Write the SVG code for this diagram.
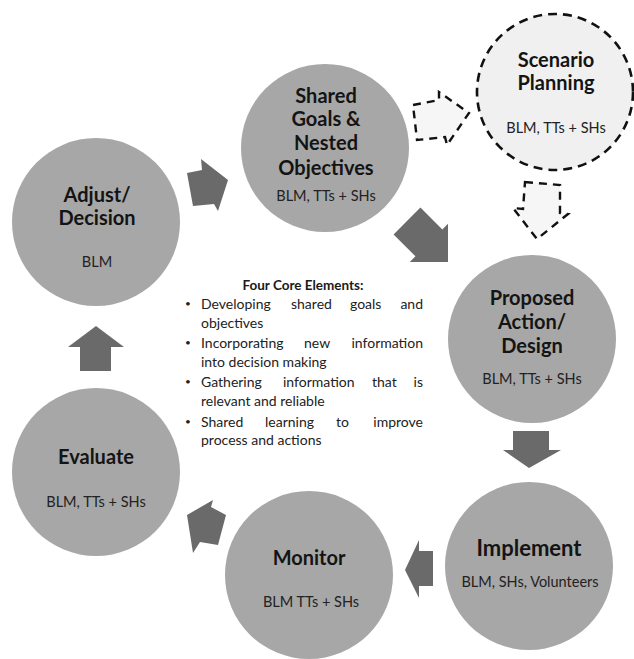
<svg xmlns="http://www.w3.org/2000/svg" width="634" height="659" viewBox="0 0 634 659">
<defs>
<style>
.node{fill:#a7a7a7;}
.dash{fill:#f0f0f0;stroke:#111;stroke-width:2.6;stroke-dasharray:9 6;}
.arrow{fill:#6a6a6a;}
.darrow{fill:#f6f6f6;stroke:#111;stroke-width:2.4;stroke-dasharray:8 6;}
.t{font-family:Lato,"Open Sans","Liberation Sans",sans-serif;font-weight:bold;font-size:20px;fill:#141414;text-anchor:middle;}
.s{font-family:Lato,"Open Sans","Liberation Sans",sans-serif;font-size:14.5px;fill:#222;text-anchor:middle;}
.h{font-family:Lato,"Open Sans","Liberation Sans",sans-serif;font-weight:bold;font-size:13.5px;fill:#1a1a1a;text-anchor:middle;}
.b{font-family:Lato,"Open Sans","Liberation Sans",sans-serif;font-size:14px;fill:#222;}
.dot{font-family:Lato,"Open Sans","Liberation Sans",sans-serif;font-size:10px;fill:#222;}
</style>
</defs>
<rect width="634" height="659" fill="#ffffff"/>
<g id="connectors">
<polygon class="arrow" points="187,173 202,170 201,159 228,180 218,211 214,204 193,206"/>
<polygon class="arrow" transform="translate(448,262) rotate(45)" points="0,0 -27,-27 -27,-19 -58,-19 -58,19 -27,19 -27,27"/>
<polygon class="darrow" points="413,105 439,100 439,92 469,113 447,145 445,137 417,140"/>
<polygon class="darrow" points="525,182 560,185 560,213 568,214 537,239 513,208 523,209"/>
<polygon class="arrow" points="513,431 549,431 549,450 561,450 529,468 503,450 513,450"/>
<polygon class="arrow" points="405,570 419,540 419,551 433,551 433,586 419,586 419,598"/>
<polygon class="arrow" points="187,515 213,500 211,507 226,515 218,545 200,542 193,553"/>
<polygon class="arrow" points="96,326 124,347 111,347 111,371 80,371 80,347 68,347"/>
</g>
<g id="adjust">
<circle class="node" cx="96" cy="222" r="84"/>
<text class="t" x="97" y="202">Adjust/</text>
<text class="t" x="97" y="225">Decision</text>
<text class="s" x="97" y="267">BLM</text>
</g>
<g id="shared-goals">
<circle class="node" cx="325" cy="148" r="84"/>
<text class="t" x="326" y="103">Shared</text>
<text class="t" x="326" y="126">Goals &amp;</text>
<text class="t" x="326" y="150">Nested</text>
<text class="t" x="326" y="175">Objectives</text>
<text class="s" x="326" y="201">BLM, TTs + SHs</text>
</g>
<g id="scenario-planning">
<circle class="dash" cx="555" cy="92" r="78"/>
<text class="t" x="556" y="67">Scenario</text>
<text class="t" x="556" y="90">Planning</text>
<text class="s" x="556" y="133">BLM, TTs + SHs</text>
</g>
<g id="proposed">
<circle class="node" cx="532" cy="339" r="84"/>
<text class="t" x="532" y="305">Proposed</text>
<text class="t" x="532" y="329">Action/</text>
<text class="t" x="532" y="353">Design</text>
<text class="s" x="532" y="384">BLM, TTs + SHs</text>
</g>
<g id="implement">
<circle class="node" cx="529" cy="566" r="84"/>
<text class="t" x="529" y="556" style="font-size:22px">Implement</text>
<text class="s" x="530" y="587">BLM, SHs, Volunteers</text>
</g>
<g id="monitor">
<circle class="node" cx="309" cy="575" r="84"/>
<text class="t" x="309" y="565">Monitor</text>
<text class="s" x="311" y="607">BLM TTs + SHs</text>
</g>
<g id="evaluate">
<circle class="node" cx="96" cy="472" r="84"/>
<text class="t" x="96" y="464">Evaluate</text>
<text class="s" x="96" y="507">BLM, TTs + SHs</text>
</g>
<g id="core-elements">
<text class="h" x="303" y="290">Four Core Elements:</text>
<text class="dot" x="185" y="307">•</text>
<text class="b" y="309"><tspan x="201">Developing</tspan><tspan x="291">shared</tspan><tspan x="350">goals</tspan><tspan x="423" text-anchor="end">and</tspan></text>
<text class="b" x="201" y="328">objectives</text>
<text class="dot" x="185" y="346">•</text>
<text class="b" y="348"><tspan x="201">Incorporating</tspan><tspan x="304">new</tspan><tspan x="423" text-anchor="end">information</tspan></text>
<text class="b" x="201" y="367">into decision making</text>
<text class="dot" x="185" y="385">•</text>
<text class="b" y="387"><tspan x="201">Gathering</tspan><tspan x="283">information</tspan><tspan x="372">that</tspan><tspan x="423" text-anchor="end">is</tspan></text>
<text class="b" x="201" y="406">relevant and reliable</text>
<text class="dot" x="185" y="425">•</text>
<text class="b" y="427"><tspan x="201">Shared</tspan><tspan x="265">learning</tspan><tspan x="336">to</tspan><tspan x="423" text-anchor="end">improve</tspan></text>
<text class="b" x="201" y="445">process and actions</text>
</g>
</svg>
